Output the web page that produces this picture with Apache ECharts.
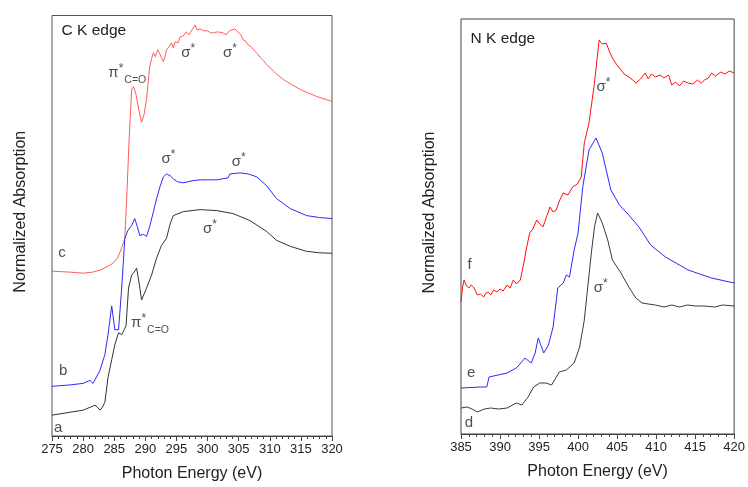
<!DOCTYPE html>
<html><head><meta charset="utf-8">
<script src="https://cdn.jsdelivr.net/npm/echarts@6/dist/echarts.min.js"></script>
<style>html,body{margin:0;padding:0;background:#fff}#c{width:748px;height:487px}</style>
</head><body><div id="c"></div>
<script>
// ---- C K edge (left panel) : [photon energy eV, normalized absorption (a.u.)]
const curveC = [[275,1.66],[276.5,1.655],[278,1.65],[279,1.645],[280,1.64],[281.5,1.65],[282.7,1.67],[284,1.71],[284.8,1.74],[285.5,1.79],[286,1.86],[286.7,1.99],[287,2.39],[287.4,2.99],[287.8,3.49],[288.1,3.52],[288.5,3.44],[289,3.27],[289.4,3.16],[289.8,3.24],[290.2,3.39],[290.7,3.72],[291.0,3.80],[291.3,3.86],[291.6,3.82],[292,3.89],[292.3,3.85],[292.5,3.84],[292.9,3.77],[293.2,3.83],[293.4,3.89],[293.8,3.92],[294.2,3.96],[294.5,3.91],[294.8,3.97],[295,3.99],[295.3,3.96],[295.6,4.02],[296.1,4.03],[296.6,4.07],[297,4.04],[297.5,4.09],[297.8,4.08],[298,4.14],[298.3,4.09],[298.8,4.10],[299.4,4.08],[300,4.08],[300.5,4.06],[300.9,4.06],[301.6,4.07],[302.5,4.06],[303,4.04],[303.5,4.08],[304.4,4.10],[305,4.06],[305.4,4.04],[305.7,3.99],[306.1,3.98],[306.5,3.94],[307,3.92],[307.4,3.89],[308,3.85],[308.5,3.81],[309,3.78],[309.5,3.74],[310.2,3.70],[311,3.65],[311.6,3.62],[312.2,3.59],[313.5,3.54],[314.9,3.49],[316,3.46],[317.5,3.42],[319,3.39],[320,3.37]];
const curveB = [[275,0.50],[278,0.515],[280,0.53],[281.1,0.56],[281.6,0.53],[282.7,0.66],[283.5,0.82],[284,1.02],[284.6,1.31],[285.1,1.07],[285.7,1.07],[286.2,1.49],[286.7,1.99],[287.2,2.07],[287.8,2.12],[288.3,2.19],[288.7,2.11],[289.1,2.02],[289.7,2.03],[290.2,2.01],[290.7,2.11],[291.3,2.26],[291.8,2.39],[292.4,2.52],[292.9,2.61],[293.4,2.64],[294,2.62],[294.5,2.59],[295.2,2.56],[296.1,2.55],[297.5,2.57],[298.8,2.58],[300,2.58],[301.5,2.58],[303.3,2.60],[303.6,2.64],[305.2,2.65],[306.5,2.64],[307.9,2.61],[309.5,2.52],[311.1,2.39],[313.3,2.29],[315.9,2.22],[318,2.20],[320,2.19]];
const curveA = [[275,0.21],[280,0.26],[281.9,0.31],[282.3,0.29],[282.7,0.26],[283.1,0.29],[283.5,0.34],[284,0.59],[284.6,0.77],[285.1,0.92],[285.7,1.04],[286.2,1.02],[286.6,1.07],[286.9,1.11],[287.3,1.49],[287.8,1.62],[288.2,1.65],[288.6,1.69],[289,1.54],[289.4,1.37],[290.2,1.49],[291,1.62],[291.8,1.79],[292.6,1.92],[293.4,1.99],[294,2.14],[294.5,2.22],[296.1,2.26],[298.8,2.28],[301.5,2.27],[304.1,2.24],[306.8,2.17],[309.5,2.06],[311.1,1.97],[313.3,1.91],[315.9,1.86],[318,1.845],[320,1.84]];
// ---- N K edge (right panel)
const curveF = [[385,1.32],[385.2,1.47],[385.4,1.54],[385.7,1.48],[386,1.46],[386.3,1.49],[386.6,1.47],[387.1,1.39],[387.5,1.40],[387.9,1.37],[388.2,1.41],[388.5,1.42],[388.8,1.39],[389.2,1.44],[389.6,1.42],[390,1.45],[390.4,1.43],[390.9,1.49],[391.3,1.46],[391.7,1.54],[392.1,1.50],[392.6,1.54],[393,1.69],[393.4,1.86],[393.8,2.01],[394.2,2.05],[394.7,2.14],[395.1,2.10],[395.5,2.07],[396,2.18],[396.4,2.27],[396.8,2.22],[397.2,2.24],[397.6,2.33],[398.1,2.41],[398.7,2.39],[399.3,2.47],[399.9,2.50],[400.4,2.57],[400.8,2.91],[401.4,3.11],[402.1,3.51],[402.7,3.94],[403.1,3.90],[403.6,3.91],[404,3.83],[404.4,3.76],[404.9,3.70],[405.3,3.66],[405.9,3.60],[406.5,3.57],[407,3.54],[407.4,3.51],[408,3.55],[408.6,3.61],[409,3.55],[409.4,3.60],[409.9,3.57],[410.5,3.59],[411,3.56],[411.6,3.59],[412,3.49],[412.5,3.52],[413,3.48],[413.5,3.53],[414.1,3.51],[414.7,3.50],[415.3,3.54],[415.8,3.51],[416.2,3.54],[416.7,3.56],[417.1,3.61],[417.6,3.58],[418.3,3.62],[418.8,3.60],[419.4,3.63],[420,3.61]];
const curveE = [[385,0.46],[387.5,0.47],[388.3,0.47],[388.6,0.57],[390.9,0.61],[392.1,0.66],[393.2,0.76],[394,0.71],[394.5,0.81],[394.9,0.96],[395.6,0.81],[396.2,0.89],[396.8,1.07],[397.4,1.46],[398.1,1.51],[398.5,1.59],[398.9,1.57],[399.5,1.84],[400,2.01],[400.6,2.47],[401.4,2.84],[402.3,2.96],[403.1,2.81],[404.2,2.44],[405.3,2.29],[406.5,2.19],[407.8,2.07],[409.3,1.89],[411.2,1.77],[414.1,1.64],[417.1,1.56],[420,1.51]];
const curveD = [[385,0.26],[385.8,0.27],[386.4,0.25],[387.1,0.22],[388,0.25],[388.8,0.26],[389.8,0.25],[390.9,0.26],[392.1,0.31],[392.8,0.29],[393.6,0.37],[394.3,0.47],[395.1,0.51],[395.9,0.51],[396.6,0.49],[397.6,0.62],[398.5,0.64],[399.5,0.71],[400.2,0.87],[400.8,1.14],[401.2,1.44],[401.7,1.81],[402.1,2.07],[402.5,2.21],[403.1,2.11],[403.8,1.94],[404.4,1.74],[405.5,1.61],[406.5,1.47],[407.4,1.36],[408.2,1.31],[409,1.30],[409.9,1.29],[411,1.27],[412,1.29],[413,1.27],[414,1.29],[415,1.28],[416.2,1.28],[417.5,1.27],[418.5,1.29],[420,1.28]];
// annotation anchors [eV, absorption, text]
const notesC = [[296.9,3.86,'σ*'],[303.6,3.86,'σ*'],[287.1,3.66,'π*C=O'],[293.7,2.79,'σ*'],[305.0,2.76,'σ*'],[300.4,2.09,'σ*'],[290.75,1.14,'π*C=O'],[276.6,1.84,'c'],[276.8,0.66,'b'],[276.0,0.083,'a']];
const notesN = [[403.26,3.47,'σ*'],[402.9,1.46,'σ*'],[386.1,1.69,'f'],[386.3,0.61,'e'],[386.0,0.11,'d']];
const xTicksC = {min:275, max:320, interval:5};
const xTicksN = {min:385, max:420, interval:5};
const yRangeC = [0, 4.235];
const yRangeN = [0, 4.15];
const panelTitles = ['C K edge', 'N K edge'];
const axisNames = {x:'Photon Energy (eV)', y:'Normalized Absorption'};

const chart = echarts.init(document.getElementById('c'), null, {renderer:'canvas'});
const FONT = 'Liberation Sans, Arial, sans-serif';
function fmt(t){
  if (t === 'σ*') return '{g|σ}{s|*}';
  if (t === 'π*C=O') return '{g|π}{s|*}{b|C=O}';
  return '{g|' + t + '}';
}
const rich = {
  g:{fontSize:15, fontFamily:FONT, color:'#222', lineHeight:20, verticalAlign:'middle'},
  s:{fontSize:12, fontFamily:FONT, color:'#222', lineHeight:20, verticalAlign:'top'},
  b:{fontSize:10.5, fontFamily:FONT, color:'#222', lineHeight:20, verticalAlign:'bottom', padding:[0,0,-3,1]}
};
function xAxis(idx, t){
  return {gridIndex:idx, type:'value', min:t.min, max:t.max, interval:t.interval,
    name:axisNames.x, nameLocation:'middle', nameGap:30,
    nameTextStyle:{fontSize:16, fontFamily:FONT, color:'#222'},
    axisLine:{show:true, lineStyle:{color:'#444', width:1}},
    axisTick:{show:true, inside:false, length:5, lineStyle:{color:'#444'}},
    minorTick:{show:true, splitNumber:5, length:3, lineStyle:{color:'#444'}},
    splitLine:{show:false},
    axisLabel:{fontSize:13, fontFamily:FONT, color:'#222', margin:7}};
}
function yAxis(idx, r){
  return {gridIndex:idx, type:'value', min:r[0], max:r[1],
    name:axisNames.y, nameLocation:'middle', nameGap:23, nameRotate:90,
    nameTextStyle:{fontSize:16, fontFamily:FONT, color:'#222', padding:[0,0,0,28]},
    axisLine:{show:false}, axisTick:{show:false}, axisLabel:{show:false}, splitLine:{show:false}};
}
function line(data, color, xi, w){
  return {type:'line', xAxisIndex:xi, yAxisIndex:xi, data:data, showSymbol:false, symbol:'none',
    smooth:false, lineStyle:{color:color, width:w||1}, silent:true, animation:false, z:3};
}
function notes(data, xi){
  return {type:'scatter', xAxisIndex:xi, yAxisIndex:xi, symbolSize:0, silent:true, animation:false,
    data:data.map(d=>({value:[d[0],d[1]], name:d[2]})),
    label:{show:true, position:'inside', formatter:p=>fmt(p.name), rich:rich}, z:5};
}
chart.setOption({
  backgroundColor:'#fff',
  animation:false,
  grid:[
    {left:52, top:15.5, width:280, height:423.5, show:true, borderColor:'#555', borderWidth:1},
    {left:461, top:19, width:276, height:415, show:true, borderColor:'#444', borderWidth:1}
  ],
  xAxis:[xAxis(0, xTicksC), xAxis(1, xTicksN)],
  yAxis:[yAxis(0, yRangeC), yAxis(1, yRangeN)],
  graphic:[
    {type:'text', left:61.5, top:23, style:{text:panelTitles[0], fontSize:15.5, fontFamily:FONT, fill:'#222'}},
    {type:'text', left:470.5, top:31, style:{text:panelTitles[1], fontSize:15.5, fontFamily:FONT, fill:'#222'}}
  ],
  series:[
    line(curveC, '#ff5c5c', 0),
    line(curveB, '#2a2aff', 0),
    line(curveA, '#333333', 0),
    notes(notesC, 0),
    line(curveF, '#ff1010', 1),
    line(curveE, '#2a2aff', 1),
    line(curveD, '#3a3a3a', 1),
    notes(notesN, 1)
  ]
});
</script></body></html>
